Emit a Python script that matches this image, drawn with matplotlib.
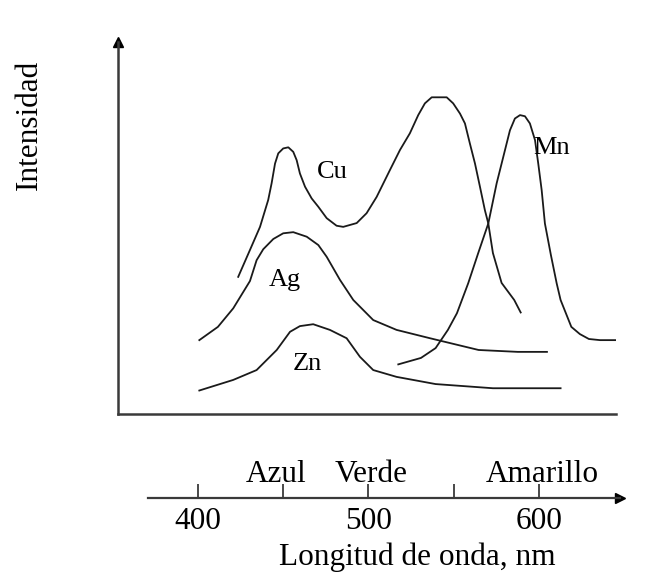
import matplotlib.pyplot as plt

plt.rcParams['font.family'] = ['Liberation Serif', 'DejaVu Serif']

# emission spectra (wavelength in nm, relative intensity)
cu_wl = [423.6, 430.5, 436.4, 441.2, 443.2, 445.2, 447.1, 450.0, 453.0, 455.9,
         457.9, 459.8, 462.8, 466.7, 470.6, 475.5, 481.3, 485.2, 493.1, 498.9,
         504.8, 512.6, 518.5, 524.3, 529.2, 533.1, 537.1, 545.9, 549.7, 553.7,
         556.6, 559.5, 562.5, 565.4, 568.3, 570.3, 573.0, 578.1, 585.5, 589.3]
cu_int = [36.2, 43.3, 49.4, 56.5, 60.9, 66.1, 68.8, 70.1, 70.4, 69.2,
          67.0, 63.5, 60.0, 56.9, 54.7, 51.7, 49.7, 49.4, 50.4, 53.0,
          57.3, 64.4, 69.7, 74.1, 78.9, 82.0, 83.6, 83.6, 82.0, 79.3,
          76.7, 71.4, 66.1, 60.0, 53.8, 50.3, 42.5, 34.6, 30.1, 26.8]

mn_wl = [517.5, 530.8, 539.4, 546.6, 551.9, 558.5, 564.4, 570.3, 575.2, 579.1,
         583.0, 585.9, 588.9, 591.8, 594.7, 597.7, 599.6, 601.6, 603.5, 607.0,
         610.4, 612.7, 619.0, 624.0, 629.3, 635.8, 645.2]
mn_int = [13.1, 14.8, 17.4, 22.2, 26.6, 34.5, 42.5, 50.3, 60.9, 67.9,
          74.9, 78.0, 78.9, 78.6, 76.7, 72.3, 66.1, 59.1, 50.3, 42.0,
          34.5, 30.1, 23.0, 21.1, 19.8, 19.5, 19.5]

ag_wl = [400.8, 411.7, 420.7, 430.5, 434.4, 438.3, 444.2, 450.0, 455.9, 463.8,
         470.6, 475.5, 483.3, 491.1, 502.8, 516.5, 536.1, 564.6, 587.6, 604.7]
ag_int = [19.5, 23.0, 27.9, 35.1, 40.6, 43.5, 46.2, 47.7, 48.0, 46.8,
          44.6, 41.5, 35.4, 30.1, 24.8, 22.2, 20.0, 16.9, 16.4, 16.4]

zn_wl = [400.8, 420.7, 434.4, 446.2, 454.0, 459.8, 467.6, 477.4, 487.2, 495.0,
         502.8, 516.5, 539.4, 573.0, 612.7]
zn_int = [6.2, 9.0, 11.6, 16.9, 21.7, 23.2, 23.7, 22.2, 20.0, 15.1,
          11.6, 9.8, 7.9, 6.8, 6.8]

# curve labels: (text, wavelength, baseline intensity)
curve_labels = [('Cu', 478.6, 62.3), ('Ag', 451.0, 33.8),
                ('Zn', 464.2, 11.6), ('Mn', 607.3, 68.6)]

# wavelength scale
scale_ticks = [400, 450, 500, 550, 600]
scale_ticklabels = ['400', '', '500', '', '600']
colour_names = [('Azul', 446.0), ('Verde', 501.5), ('Amarillo', 602.0)]

line_col = '#1a1a1a'
axis_col = '#3a3a3a'

fig = plt.figure(figsize=(6.6, 5.72), dpi=100)

# spectrum panel
ax = fig.add_axes([118 / 660, 158 / 572, 498 / 660, 372 / 572])
for wl, inten in [(cu_wl, cu_int), (mn_wl, mn_int), (ag_wl, ag_int), (zn_wl, zn_int)]:
    ax.plot(wl, inten, color=line_col, lw=1.3, solid_joinstyle='round')
for name, x, y in curve_labels:
    ax.text(x, y, name, fontsize=19, ha='center', va='baseline')

ax.set_xlim(353.1, 645.2)
ax.set_ylim(0, 98.2)
for side in ['top', 'right']:
    ax.spines[side].set_visible(False)
for side in ['left', 'bottom']:
    ax.spines[side].set_color(axis_col)
    ax.spines[side].set_linewidth(1.8)
ax.set_xticks([])
ax.set_yticks([])
ax.plot(0, 1.0, marker='^', color='black', markersize=7, transform=ax.transAxes, clip_on=False)

fig.text(36.5 / 660, 1 - 125 / 572, 'Intensidad', fontsize=22.5, rotation=90,
         rotation_mode='anchor', ha='center', va='baseline')

# wavelength axis underneath
ax2 = fig.add_axes([148 / 660, 74 / 572, 472 / 660, 0.05])
ax2.set_xlim(370.7, 647.5)
ax2.set_ylim(0, 1)
for side in ['top', 'right', 'left']:
    ax2.spines[side].set_visible(False)
ax2.spines['bottom'].set_color(axis_col)
ax2.spines['bottom'].set_linewidth(1.6)
ax2.set_yticks([])
ax2.set_xticks(scale_ticks)
ax2.set_xticklabels(scale_ticklabels)
ax2.tick_params(axis='x', direction='in', length=10, width=1.3, color=axis_col,
                labelsize=22.5, pad=6.5)
ax2.patch.set_alpha(0)
ax2.plot(1.0, 0, marker='>', color='black', markersize=7, transform=ax2.transAxes, clip_on=False)

for name, x in colour_names:
    ax2.annotate(name, xy=(x, 0), xycoords=('data', 'axes fraction'),
                 xytext=(0, 11.5), textcoords='offset points',
                 fontsize=22.5, ha='center', va='baseline')

fig.text(417.5 / 660, 7 / 572, 'Longitud de onda, nm', fontsize=22.5,
         ha='center', va='baseline')

fig.savefig('out.png', dpi=100)
